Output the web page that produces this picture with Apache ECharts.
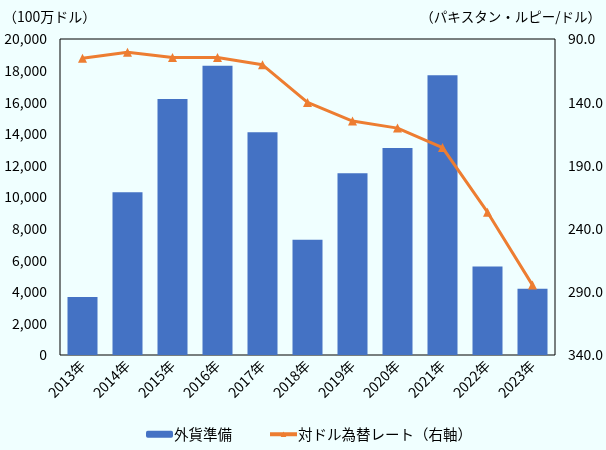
<!DOCTYPE html>
<html>
<head>
<meta charset="utf-8">
<script src="https://cdn.jsdelivr.net/npm/echarts@6/dist/echarts.min.js"></script>
<style>
  html, body { margin: 0; padding: 0; background: #F0FFFF; }
  #chart { width: 606px; height: 450px; }
</style>
</head>
<body>
<div id="chart"></div>
<script>
var years = ['2013年', '2014年', '2015年', '2016年', '2017年', '2018年', '2019年', '2020年', '2021年', '2022年', '2023年'];
// 外貨準備（100万ドル）
var reserves = [3670, 10300, 16200, 18300, 14100, 7300, 11500, 13100, 17700, 5600, 4200];
// 対ドル為替レート（パキスタン・ルピー/ドル）
var rate = [105.2, 100.4, 104.6, 104.6, 110.4, 140.2, 154.9, 160.5, 175.9, 227.0, 284.7];

var font = '"Noto Sans CJK JP", "Noto Sans", sans-serif';
var chart = echarts.init(document.getElementById('chart'));

chart.setOption({
  backgroundColor: '#F0FFFF',
  textStyle: { fontFamily: font, color: '#000' },
  animation: false,
  grid: {
    left: 60, right: 51, top: 39, bottom: 95,
    show: true, borderColor: '#000', borderWidth: 1, backgroundColor: 'transparent'
  },
  graphic: [
    { type: 'text', left: 3, top: 10, style: { text: '（100万ドル）', font: '14px ' + font, fill: '#000' } },
    { type: 'text', right: 5, top: 10, style: { text: '（パキスタン・ルピー/ドル）', font: '13.5px ' + font, fill: '#000' } }
  ],
  legend: {
    left: 141, top: 422,
    itemWidth: 27, itemHeight: 7, itemGap: 36,
    textStyle: { fontSize: 14.5, color: '#000', fontFamily: font, padding: [0, 0, 0, -4] },
    data: [
      { name: '外貨準備' },
      { name: '対ドル為替レート（右軸）', lineStyle: { width: 4 } }
    ]
  },
  xAxis: {
    type: 'category',
    data: years,
    axisLine: { show: false },
    axisTick: { show: false },
    axisLabel: { rotate: 45, margin: 8, fontSize: 14, color: '#000', fontFamily: font, interval: 0 }
  },
  yAxis: [
    {
      type: 'value', min: 0, max: 20000, interval: 2000,
      axisLine: { show: false }, axisTick: { show: false }, splitLine: { show: false },
      axisLabel: {
        margin: 13, fontSize: 14, color: '#000', fontFamily: font,
        formatter: function(v) { return v.toLocaleString('en-US'); }
      }
    },
    {
      type: 'value', min: 90, max: 340, interval: 50, inverse: true,
      axisLine: { show: false }, axisTick: { show: false }, splitLine: { show: false },
      axisLabel: {
        margin: 13, fontSize: 14, color: '#000', fontFamily: font,
        formatter: function(v) { return v.toFixed(1); }
      }
    }
  ],
  series: [
    {
      name: '外貨準備',
      type: 'bar',
      data: reserves,
      barWidth: 30,
      itemStyle: { color: '#4472C4' }
    },
    {
      name: '対ドル為替レート（右軸）',
      type: 'line',
      yAxisIndex: 1,
      data: rate,
      symbol: 'triangle',
      symbolSize: 9,
      lineStyle: { color: '#ED7D31', width: 3 },
      itemStyle: { color: '#ED7D31' }
    }
  ]
});
</script>
</body>
</html>
